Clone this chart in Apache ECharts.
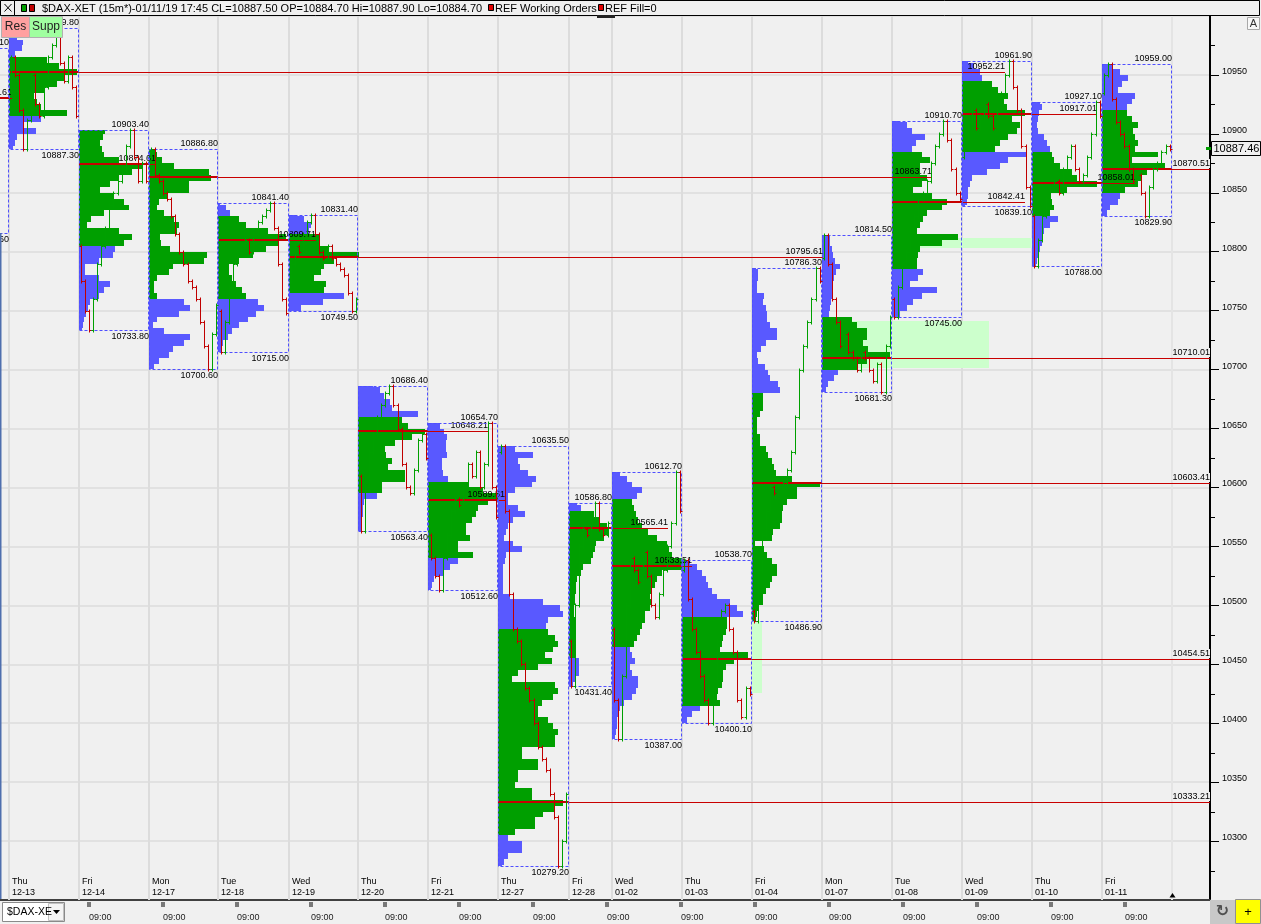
<!DOCTYPE html>
<html><head><meta charset="utf-8">
<script src="https://cdn.jsdelivr.net/npm/echarts/dist/echarts.min.js"></script>
<style>html,body{margin:0;padding:0;background:#f0f0f0;overflow:hidden}#c{width:1261px;height:924px}</style>
</head><body><div id="c"></div>
<script>
// ---------- DATA ----------
const days     = ['12-12','12-13','12-14','12-17','12-18','12-19','12-20','12-21','12-27','12-28','01-02','01-03','01-04','01-07','01-08','01-09','01-10','01-11'];
const dayNames = ['Wed','Thu','Fri','Mon','Tue','Wed','Thu','Fri','Thu','Fri','Wed','Thu','Fri','Mon','Tue','Wed','Thu','Fri'];
const dayBars  = [34,34,34,34,34,34,34,34,34,21,34,34,34,34,34,34,34,34]; // 15-min bars per session
const dayHigh  = [10973.10,10989.80,10903.40,10886.80,10841.40,10831.40,10686.40,10654.70,10635.50,10586.80,10612.70,10538.70,10786.30,10814.50,10910.70,10961.90,10927.10,10959.00];
const dayLow   = [10815.60,10887.30,10733.80,10700.60,10715.00,10749.50,10563.40,10512.60,10279.20,10431.40,10387.00,10400.10,10486.90,10681.30,10745.00,10839.10,10788.00,10829.90];
const dayPoc   = [10930.61,10952.21,10874.61,10863.71,10809.71,10795.61,10648.21,10589.51,10333.21,10565.41,10533.51,10454.51,10603.41,10710.01,10842.41,10917.01,10858.01,10870.51];
// where price came back to the POC: [session index, bars into that session]; null = still untouched
const pocTouch = [[1,1.7],[15,20.9],[3,3.4],[14,19.4],[5,13.6],[13,0.5],[7,28.7],[8,3.4],null,[10,27.2],[11,4.9],null,null,null,[15,30.6],[16,31.6],[17,16],null];
const vaLow    = [null,10915,10805,10757,10757,10765,10595,10540,10305,10455,10465,10413,10485,10700,10785,10885,10830,10850];
const vaHigh   = [null,10965,10905,10890,10830,10815,10660,10605,10480,10580,10590,10490,10680,10745,10885,10945,10885,10920];
const profTop  = [null,10985,10900,10885,10840,10830,10685,10650,10635,10585,10610,10535,10785,10810,10910,10960,10925,10955]; // top 5-pt row

// volume profile (relative volume per 5-point row, from top row down)
const vol1213 = [4,8,14,13,6,38,50,68,55,48,35,25,28,32,58,32,14,27,8,6,4];
const vol1214 = [26,24,21,23,25,40,64,53,40,31,21,34,45,50,25,12,8,40,53,45,36,34,20,6,6,20,31,25,20,11,9,7,5,4,3];
const vol1217 = [6,8,13,25,60,62,40,40,18,10,8,15,25,30,28,11,12,21,58,55,24,20,8,5,5,8,35,41,30,8,4,15,41,35,24,20,10,5];
const vol1218 = [2,8,12,21,28,50,68,60,48,35,21,11,11,14,18,24,28,40,46,38,30,21,14,10,5,4];
const vol1219 = [6,15,22,20,30,30,40,70,45,35,32,25,37,35,55,34,12];
const vol1220 = [15,22,26,32,34,60,44,50,67,54,37,27,28,34,30,47,47,24,24,19,6,5,5,4,4,3];
const vol1221 = [12,16,19,18,18,19,14,14,15,20,40,55,74,60,50,48,44,38,38,42,30,30,45,30,22,15,6,4,3];
const vol1227 = [17,17,35,20,22,30,38,34,17,10,10,20,27,15,10,8,6,15,24,8,7,5,5,5,5,5,12,45,62,65,50,48,50,57,60,55,47,54,40,20,14,57,60,55,44,40,40,50,55,60,57,57,24,24,40,40,20,20,17,34,34,65,57,45,37,37,17,10,24,24,10,6,4];
const vol1228 = [8,12,25,30,38,40,35,27,26,24,22,14,12,8,7,7,6,6,5,5,6,6,7,6,6,6,6,10,10,10,6,4];
const vol0102 = [8,15,20,30,25,20,22,24,26,30,36,45,55,57,60,70,80,50,45,43,40,38,40,38,33,33,30,28,25,22,18,20,23,18,20,26,26,24,20,12,8,6,5,5,4,3];
const vol0103 = [8,15,20,24,26,30,35,48,55,61,45,45,44,41,40,38,66,52,44,41,41,40,36,35,38,18,10,5];
const vol0104 = [4,6,6,5,5,12,11,14,15,15,18,25,25,14,9,5,6,13,16,18,26,28,11,11,11,8,5,5,5,8,8,14,16,20,22,24,40,68,45,45,35,31,30,30,28,21,20,3,12,15,20,25,25,20,18,14,11,11,6,5,4];
const vol0107 = [8,8,10,11,13,18,14,12,10,10,11,9,8,7,30,35,45,45,41,46,68,45,36,16,12,6,4];
const vol0108 = [8,15,20,33,24,20,30,38,28,28,35,30,21,40,55,50,35,31,28,25,66,50,28,26,25,25,31,26,18,45,30,21,15,8];
const vol0109 = [6,12,18,20,30,36,46,42,45,63,50,58,55,46,38,33,65,46,38,25,10,8,6,6,5,3];
const vol0110 = [8,10,7,6,5,6,12,15,18,20,22,28,40,45,65,35,18,20,22,18,26,18,12,10,10,8,6,5,4];
const vol0111 = [10,18,26,20,16,33,30,25,25,30,36,31,33,36,33,56,30,63,45,40,36,23,18,16,8,5];
const profiles = [null,vol1213,vol1214,vol1217,vol1218,vol1219,vol1220,vol1221,vol1227,vol1228,vol0102,vol0103,vol0104,vol0107,vol0108,vol0109,vol0110,vol0111];

// price path, one value per 30 minutes (first value = session open)
const path1213 = [10935,10965,10950,10920,10887.3,10912,10950,10925,10915,10940,10965,10975,10989.8,10960,10945,10965,10940,10915];
const path1214 = [10805,10775,10750,10733.8,10760,10790,10805,10820,10840,10850,10860,10870,10890,10903.4,10880,10860,10875,10860];
const path1217 = [10880,10886.8,10865,10860,10850,10845,10830,10815,10800,10790,10775,10770,10760,10740,10720,10700.6,10730,10755];
const path1218 = [10750,10715,10740,10770,10790,10800,10805,10810,10800,10815,10825,10830,10835,10841.4,10820,10790,10760,10748];
const path1219 = [10775,10790,10805,10800,10815,10825,10831.4,10815,10800,10795,10805,10795,10790,10785,10780,10765,10749.5,10760];
const path1220 = [10610,10563.4,10600,10630,10645,10660,10670,10680,10686.4,10670,10650,10620,10600,10595,10615,10640,10645,10625];
const path1221 = [10560,10540,10525,10512.6,10540,10560,10580,10590,10585,10600,10620,10610,10630,10600,10620,10654.7,10600,10575];
const path1227 = [10630,10635.5,10580,10510,10480,10470,10450,10430,10420,10400,10380,10370,10360,10340,10320,10279.2,10300,10340];
const path1228 = [10470,10431.4,10500,10550,10565,10560,10575,10586.8,10565,10560,10570];
const path0102 = [10480,10420,10387,10440,10500,10540,10530,10520,10545,10525,10500,10490,10510,10530,10550,10570,10612.7,10580];
const path0103 = [10530,10538.7,10505,10480,10460,10440,10420,10400.1,10430,10470,10495,10500,10480,10460,10420,10405,10430,10425];
const path0104 = [10495,10486.9,10530,10560,10580,10600,10595,10600,10605,10615,10630,10660,10700,10720,10740,10760,10786.3,10775];
const path0107 = [10795,10814.5,10790,10760,10740,10720,10730,10715,10710,10700,10715,10710,10700,10690,10705,10681.3,10720,10745];
const path0108 = [10760,10745,10770,10790,10800,10820,10830,10845,10850,10860,10875,10890,10900,10910.7,10895,10870,10850,10845];
const path0109 = [10880,10895,10910,10920,10905,10915,10925,10915,10905,10920,10935,10950,10961.9,10940,10920,10890,10855,10839.1];
const path0110 = [10830,10788,10810,10830,10845,10855,10860,10850,10870,10880,10890,10870,10860,10865,10880,10900,10927.1,10915];
const path0111 = [10935,10950,10959,10930,10910,10900,10890,10870,10860,10865,10850,10829.9,10855,10870,10875,10885,10890,10887.5];
const paths = [null,path1213,path1214,path1217,path1218,path1219,path1220,path1221,path1227,path1228,path0102,path0103,path0104,path0107,path0108,path0109,path0110,path0111];

// highlighted zones: from [session, bar] to [session, bar], price low/high
const zoneFromDay = [13,12,14];
const zoneFromBar = [0,0,0];
const zoneToDay   = [15,12,16];
const zoneToBar   = [13.4,5.1,0];
const zoneLow     = [10701.4,10426.0,10803.0];
const zoneHigh    = [10741.6,10486.5,10811.4];

const lastPrice = 10887.46;
const yTicks = {min:10250, max:11000, step:50};
const overviewLabels = ['09:00','09:00','09:00','09:00','09:00','09:00','09:00','09:00','09:00','09:00','09:00','09:00','09:00','09:00','09:00'];

// ---------- LAYOUT / STYLE ----------
const FONT = '"Liberation Sans", Arial, sans-serif';
const PXB = 70/34;                 // pixels per 15-min bar
const GRID = {left:0, right:51, top:16, bottom:24};
const GRID_W = 1261 - GRID.left - GRID.right;
const X_MIN = -8.5/PXB, X_MAX = X_MIN + GRID_W/PXB;
const VOL_UNIT = 1/PXB;            // x-units per relative-volume unit
const ROW = 5;
const C = {bg:'#f0f0f0', grid:'#dcdcdc', va:'#009f00', out:'#5959ff', box:'#4f4fff', poc:'#c80000', up:'#00a000', dn:'#c00000', zone:'#ccffcc'};

const dayStart = []; { let acc = -dayBars[0]; for (let i=0;i<days.length;i++){ dayStart.push(acc); acc += dayBars[i]; } }
const lastEnd = dayStart[days.length-1] + dayBars[days.length-1];

// ---------- SERIES DATA ----------
const gridData = dayStart.map((s,i)=>[s,i]).concat([[lastEnd,-1]]);
const zoneData = zoneLow.map((lo,k)=>[dayStart[zoneFromDay[k]]+zoneFromBar[k], dayStart[zoneToDay[k]]+zoneToBar[k], lo, zoneHigh[k]]);
const profData = [];
profiles.forEach((arr,i)=>{ if(!arr) return; arr.forEach((v,j)=>{ const b = profTop[i]-ROW*j; profData.push([dayStart[i], b, v, (b>=vaLow[i] && b<vaHigh[i])?1:0, dayHigh[i], dayLow[i]]); }); });
const pocData = days.map((d,i)=>{ const t=pocTouch[i]; const end = t ? dayStart[t[0]]+t[1] : X_MAX; return [dayStart[i], dayStart[i]+dayBars[i], dayPoc[i], end, t?0:1]; });
const boxData = days.map((d,i)=>[dayStart[i], dayStart[i]+dayBars[i], dayLow[i], dayHigh[i]]);
const barData = [];
paths.forEach((p,i)=>{ if(!p) return; for(let j=0;j<p.length-1;j++) barData.push([dayStart[i]+2*j+1, p[j], p[j+1]]); });
const minorData = [];
for (let v = yTicks.min + yTicks.step/2; v < yTicks.max; v += yTicks.step) minorData.push([X_MAX, v]);

// ---------- RENDERERS ----------
function rGrid(params, api){
  const cs = params.coordSys; const x = api.value(0), i = api.value(1);
  const xp = Math.round(api.coord([x, 10500])[0]);
  const kids = [{type:'rect', shape:{x:xp-1, y:cs.y, width:2, height:cs.height}, style:{fill: i>=0 ? C.grid : '#e4e4e4'}}];
  if (i >= 0) kids.push({type:'text', x:xp+3, y:cs.y+cs.height-2, style:{text:dayNames[i]+'\n'+days[i], font:'9px '+FONT, fill:'#000', align:'left', verticalAlign:'bottom', lineHeight:11}});
  return {type:'group', children:kids};
}
function rMinor(params, api){
  const p = api.coord([api.value(0), api.value(1)]);
  const y = Math.round(p[1]) + 0.5, x = Math.round(p[0]);
  return {type:'line', shape:{x1:x, y1:y, x2:x+5, y2:y}, style:{stroke:'#000', lineWidth:1}};
}
function rZone(params, api){
  const a = api.coord([api.value(0), api.value(3)]), b = api.coord([api.value(1), api.value(2)]);
  return {type:'rect', shape:{x:Math.round(a[0]), y:Math.round(a[1]), width:Math.round(b[0])-Math.round(a[0]), height:Math.round(b[1])-Math.round(a[1])}, style:{fill:C.zone}};
}
function rProf(params, api){
  const x0=api.value(0), b=api.value(1), v=api.value(2), va=api.value(3), hi=api.value(4), lo=api.value(5);
  const top=Math.min(b+ROW,hi), bot=Math.max(b,lo);
  const p1=api.coord([x0,top]), p2=api.coord([x0,bot]);
  const w=api.size([v*VOL_UNIT,0])[0];
  const y1=Math.round(p1[1]), y2=Math.round(p2[1]);
  return {type:'rect', shape:{x:Math.round(p1[0]), y:y1, width:Math.round(w), height:Math.max(1,y2-y1)}, style:{fill: va?C.va:C.out}};
}
function rPoc(params, api){
  const s=api.value(0), e=api.value(1), poc=api.value(2), end=api.value(3), naked=api.value(4);
  const a=api.coord([s,poc]), b=api.coord([e,poc]), c=api.coord([end,poc]);
  const y=Math.round(a[1]);
  const xe = Math.min(c[0], b[0]);
  return {type:'group', children:[
    {type:'rect', shape:{x:Math.round(a[0]), y:y, width:Math.round(c[0])-Math.round(a[0]), height:1}, style:{fill:C.poc}},
    {type:'rect', shape:{x:Math.round(a[0]), y:y-1, width:Math.round(xe)-Math.round(a[0]), height:2}, style:{fill:C.poc}},
    {type:'text', x:Math.round(c[0]), y:y-1, style:{text:poc.toFixed(2), font:'9px '+FONT, fill:'#000', align:'right', verticalAlign:'bottom', backgroundColor: naked?C.bg:null}}
  ]};
}
function rBox(params, api){
  const s=api.value(0), e=api.value(1), lo=api.value(2), hi=api.value(3);
  const a=api.coord([s,hi]), b=api.coord([e,lo]);
  const xl=Math.round(a[0])+0.5, xr=Math.round(b[0])-0.5, yt=Math.round(a[1])+0.5, yb=Math.round(b[1])+0.5;
  return {type:'group', children:[
    {type:'rect', shape:{x:xl, y:yt, width:xr-xl, height:yb-yt}, style:{fill:null, stroke:C.box, lineWidth:1, lineDash:[3,2]}},
    {type:'text', x:xr+0.5, y:yt-1.5, style:{text:hi.toFixed(2), font:'9px '+FONT, fill:'#000', align:'right', verticalAlign:'bottom'}},
    {type:'text', x:xr+0.5, y:yb+2, style:{text:lo.toFixed(2), font:'9px '+FONT, fill:'#000', align:'right', verticalAlign:'top'}}
  ]};
}
function rBar(params, api){
  const x=api.value(0), o=api.value(1), c=api.value(2);
  const po=api.coord([x,o]), pc=api.coord([x,c]);
  const xp=Math.round(po[0])+0.5, col = c>=o?C.up:C.dn;
  const yo=Math.round(po[1])+0.5, yc=Math.round(pc[1])+0.5;
  return {type:'group', children:[
    {type:'line', shape:{x1:xp,y1:Math.min(yo,yc)-2,x2:xp,y2:Math.max(yo,yc)+2}, style:{stroke:col, lineWidth:1}},
    {type:'line', shape:{x1:xp-2,y1:yo,x2:xp,y2:yo}, style:{stroke:col, lineWidth:1}},
    {type:'line', shape:{x1:xp,y1:yc,x2:xp+2,y2:yc}, style:{stroke:col, lineWidth:1}}
  ]};
}

// ---------- CHROME (frame, header, footer) ----------
const G = [];
G.push({type:'rect', shape:{x:0,y:233,width:1.5,height:666}, style:{fill:'#4f6fae'}, z:49});
G.push({type:'rect', shape:{x:0.5,y:0.5,width:1259,height:15}, style:{fill:C.bg, stroke:'#000', lineWidth:1}, z:50});
G.push({type:'rect', shape:{x:0.5,y:0.5,width:14,height:15}, style:{fill:C.bg, stroke:'#000', lineWidth:1}, z:51});
G.push({type:'line', shape:{x1:4.5,y1:4,x2:11.5,y2:11.5}, style:{stroke:'#000', lineWidth:1}, z:52});
G.push({type:'line', shape:{x1:11.5,y1:4,x2:4.5,y2:11.5}, style:{stroke:'#000', lineWidth:1}, z:52});
G.push({type:'rect', shape:{x:21.5,y:4.5,width:5,height:7}, style:{fill:'#00a000', stroke:'#000'}, z:52});
G.push({type:'rect', shape:{x:29.5,y:4.5,width:5,height:7}, style:{fill:'#c00000', stroke:'#000'}, z:52});
G.push({type:'text', x:42, y:8.5, style:{text:'$DAX-XET (15m*)-01/11/19 17:45 CL=10887.50 OP=10884.70 Hi=10887.90 Lo=10884.70', font:'11px '+FONT, fill:'#000', verticalAlign:'middle'}, z:52});
G.push({type:'rect', shape:{x:488.5,y:4.5,width:5,height:6}, style:{fill:'#e00000', stroke:'#000'}, z:52});
G.push({type:'text', x:495, y:8.5, style:{text:'REF Working Orders', font:'11px '+FONT, fill:'#000', verticalAlign:'middle'}, z:52});
G.push({type:'rect', shape:{x:598.5,y:4.5,width:5,height:6}, style:{fill:'#e00000', stroke:'#000'}, z:52});
G.push({type:'text', x:605, y:8.5, style:{text:'REF Fill=0', font:'11px '+FONT, fill:'#000', verticalAlign:'middle'}, z:52});
G.push({type:'rect', shape:{x:597,y:15,width:18,height:3}, style:{fill:'#222'}, z:52});
// Res / Supp buttons
G.push({type:'rect', shape:{x:1.5,y:16.5,width:28,height:21}, style:{fill:'#ffa0a0', stroke:'#b0b0b0'}, z:52});
G.push({type:'text', x:15.5, y:27, style:{text:'Res', font:'12px '+FONT, fill:'#222', align:'center', verticalAlign:'middle'}, z:53});
G.push({type:'rect', shape:{x:29.5,y:16.5,width:33,height:21}, style:{fill:'#a0ffa0', stroke:'#b0b0b0'}, z:52});
G.push({type:'text', x:46, y:27, style:{text:'Supp', font:'12px '+FONT, fill:'#222', align:'center', verticalAlign:'middle'}, z:53});
// "A" button
G.push({type:'rect', shape:{x:1247.5,y:17.5,width:12,height:12}, style:{fill:'#f8f8f8', stroke:'#a8a8a8'}, z:52});
G.push({type:'text', x:1253.5, y:24, style:{text:'A', font:'11px '+FONT, fill:'#333', align:'center', verticalAlign:'middle'}, z:53});
// last price box
G.push({type:'rect', shape:{x:1206,y:147,width:5,height:3}, style:{fill:'#00a000'}, z:52});
G.push({type:'rect', shape:{x:1211.5,y:141.5,width:49,height:14}, style:{fill:'#f0f0f0', stroke:'#000'}, z:52});
G.push({type:'text', x:1213.5, y:149, style:{text:lastPrice.toFixed(2), font:'11px '+FONT, fill:'#000', verticalAlign:'middle'}, z:53});
// footer
G.push({type:'rect', shape:{x:2.5,y:902.5,width:62,height:19}, style:{fill:'#ffffff', stroke:'#8a8a8a'}, z:52});
G.push({type:'rect', shape:{x:48.5,y:903.5,width:15,height:17}, style:{fill:'#f4f4f4', stroke:'#c0c0c0'}, z:52});
G.push({type:'polygon', shape:{points:[[53,910],[60,910],[56.5,914]]}, style:{fill:'#000'}, z:53});
G.push({type:'text', x:7, y:912.5, style:{text:'$DAX-XE', font:'10.5px '+FONT, fill:'#000', verticalAlign:'middle'}, z:53});
overviewLabels.forEach((t,k)=>{
  const x = 88 + 74*k;
  G.push({type:'rect', shape:{x:x-0.5,y:902,width:1,height:5}, style:{fill:'#000'}, z:52});
  G.push({type:'rect', shape:{x:x+1.5,y:902,width:1,height:5}, style:{fill:'#000'}, z:52});
  G.push({type:'text', x:x+1, y:917.5, style:{text:t, font:'9px '+FONT, fill:'#222', verticalAlign:'middle'}, z:52});
});
G.push({type:'rect', shape:{x:1210,y:900,width:25,height:24}, style:{fill:'#c8c8c8'}, z:52});
G.push({type:'text', x:1222.5, y:912, style:{text:'\u21BB', font:'bold 16px "DejaVu Sans"', fill:'#505050', align:'center', verticalAlign:'middle'}, z:53});
G.push({type:'rect', shape:{x:1235.5,y:899.5,width:25,height:24}, style:{fill:'#ffff00', stroke:'#909090'}, z:52});
G.push({type:'text', x:1248, y:912, style:{text:'+', font:'13px '+FONT, fill:'#000', align:'center', verticalAlign:'middle'}, z:53});
G.push({type:'polygon', shape:{points:[[1169.5,897.5],[1175.5,897.5],[1172.5,893]]}, style:{fill:'#000'}, z:52});

// ---------- OPTION ----------
const chart = echarts.init(document.getElementById('c'), null, {renderer:'canvas'});
chart.setOption({
  animation:false,
  backgroundColor:C.bg,
  grid:{left:GRID.left, right:GRID.right, top:GRID.top, bottom:GRID.bottom, containLabel:false},
  xAxis:{type:'value', min:X_MIN, max:X_MAX, axisLine:{show:true, onZero:false, lineStyle:{color:'#404040', width:2}}, axisTick:{show:false}, axisLabel:{show:false}, splitLine:{show:false}, minorTick:{show:false}},
  yAxis:{type:'value', position:'right', min:yTicks.min, max:yTicks.max, interval:yTicks.step,
    axisLine:{show:true, onZero:false, lineStyle:{color:'#000', width:2}},
    axisTick:{show:true, length:9, lineStyle:{color:'#000', width:1}},
    minorTick:{show:false},
    axisLabel:{show:true, margin:12, color:'#000', fontFamily:FONT, fontSize:9, showMinLabel:false, showMaxLabel:false, verticalAlign:'bottom', lineHeight:7, formatter:(v)=>String(v)},
    splitLine:{show:true, lineStyle:{color:C.grid, width:1.5}}},
  series:[
    {type:'custom', name:'grid', renderItem:rGrid, data:gridData, z:1, clip:true, silent:true},
    {type:'custom', name:'zones', renderItem:rZone, data:zoneData, z:2, clip:true, silent:true},
    {type:'custom', name:'profile', renderItem:rProf, data:profData, z:3, clip:true, silent:true},
    {type:'custom', name:'poc', renderItem:rPoc, data:pocData, z:4, clip:true, silent:true},
    {type:'custom', name:'range', renderItem:rBox, data:boxData, z:5, clip:true, silent:true},
    {type:'custom', name:'bars', renderItem:rBar, data:barData, z:6, clip:true, silent:true},
    {type:'custom', name:'minorTicks', renderItem:rMinor, data:minorData, z:7, clip:false, silent:true}
  ],
  graphic:{elements:G}
});
</script></body></html>
